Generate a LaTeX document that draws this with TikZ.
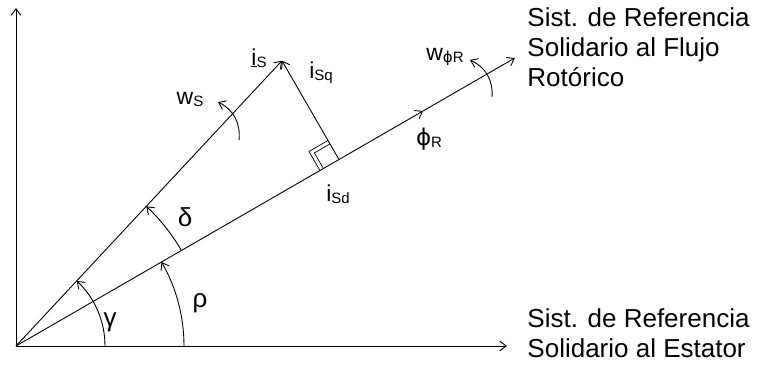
\documentclass[tikz,border=0pt]{standalone}
\usepackage{fontspec}
\setmainfont{Liberation Sans}
\newfontfamily\phifont{DejaVu Sans}
\usetikzlibrary{arrows.meta,calc}
\newcommand{\lowsub}[1]{\raisebox{-2pt}{\fontsize{15}{15}\selectfont #1}}
\begin{document}
\begin{tikzpicture}[x=1pt,y=1pt, line width=0.9pt,
  >={Straight Barb[length=6.5pt,width=9.5pt]},
  lbl/.style={inner sep=0pt, font=\fontsize{23}{23}\selectfont},
  grk/.style={inner sep=0pt, font=\fontsize{26}{26}\selectfont},
  sys/.style={inner sep=0pt, align=left, anchor=base west, font=\fontsize{26}{30}\selectfont}]
\useasboundingbox (0,0) rectangle (758,366);
% points
\coordinate (O) at (16,20);
\coordinate (Y) at (16,358);
\coordinate (X) at (507,20);
\coordinate (IS) at ($(O)+(47:390)$);
\coordinate (F) at ($(O)+(30:576)$);
\coordinate (M) at ($(O)+(30:470)$);
\coordinate (Foot) at ($(O)!(IS)!(F)$);
% axes
\draw[->] (O) -- (Y);
\draw[->] (O) -- (X);
% vectors
\draw[->] (O) -- (IS);
\draw[->] (O) -- (M);
\draw[->] (M) -- (F);
\draw[->] (Foot) -- (IS);
% right angle mark
\draw[line width=0.7pt] ($(Foot)+(210:18)$) -- ++(120:18) -- ($(Foot)+(120:18)$);
\draw[line width=0.7pt] ($(Foot)+(210:22)$) -- ++(120:22) -- ($(Foot)+(120:22)$);
% rotation arrows
\coordinate (ws0) at (239,226);
\coordinate (ws1) at (218,264);
\draw[->] (ws0) to[bend right=35] (ws1);
\coordinate (wf0) at (492,269);
\coordinate (wf1) at (470,306);
\draw[->] (wf0) to[bend right=35] (wf1);
% angle arcs
\draw[->] ($(O)+(30:191)$) arc[start angle=30,end angle=47,radius=191];
\draw[->] ($(O)+(0:168)$) arc[start angle=0,end angle=30,radius=168];
\draw[->] ($(O)+(0:89)$) arc[start angle=0,end angle=47,radius=89];
% labels
\node[lbl] (lis) at (259,308) {\underline{i}\lowsub{S}};
\node[lbl] (lisq) at (321,293) {i\lowsub{Sq}};
\node[lbl] (lisd) at (338,172) {i\lowsub{Sd}};
\node[lbl] (lws) at (190,266) {w\lowsub{S}};
\node[lbl] (lwf) at (445,309) {w\lowsub{{\phifont ϕ}R}};
\node[lbl] (lphi) at (429,227) {{\phifont ϕ}\lowsub{R}};
\node[grk] (ldelta) at (185,149) {δ};
\node[grk] (lrho) at (200,63) {ρ};
\node[grk] (lgamma) at (110,44) {γ};
% system texts (base = baseline of last line)
\node[sys] (sysF) at (527,279) {Sist. de Referencia\\Solidario al Flujo\\Rotórico};
\node[sys] (sysE) at (527,8) {Sist. de Referencia\\Solidario al Estator};
\end{tikzpicture}
\end{document}
